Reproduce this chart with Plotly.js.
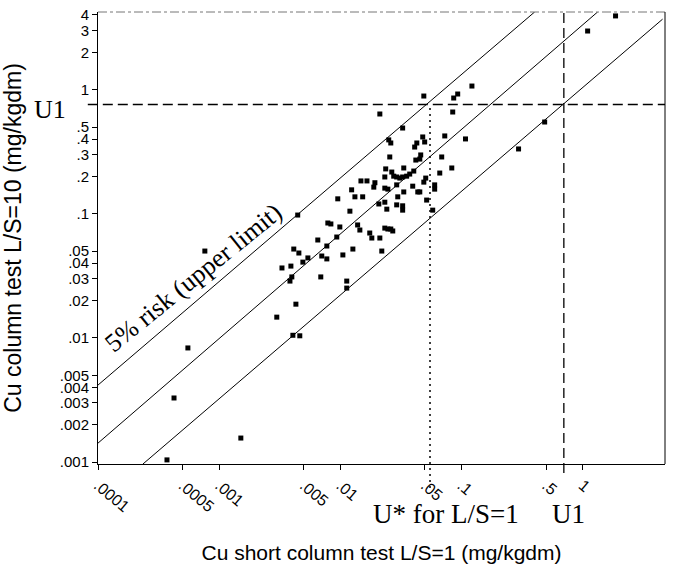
<!DOCTYPE html>
<html>
<head>
<meta charset="utf-8">
<script src="https://cdn.plot.ly/plotly-3.0.1.min.js"></script>
<style>html,body{margin:0;padding:0;background:#fff;}#chart{width:681px;height:577px;}</style>
</head>
<body>
<div id="chart"></div>
<script>
// ---- data ----
const cuShortLS1 = [1.87,1.10,0.122,0.0931,0.0863,0.0489,0.0212,0.0847,0.486,0.296,
  0.108,0.0728,0.0327,0.0251,0.0261,0.0479,0.0497,0.0411,0.0428,0.0461,
  0.0420,0.0453,0.0687,0.0832,0.0662,0.0256,0.0237,0.0334,0.0266,0.0276,
  0.0292,0.0310,0.0327,0.0353,0.0374,0.0404,0.0233,0.0507,0.0489,0.0148,
  0.0166,0.0193,0.0189,0.0233,0.0247,0.0292,0.0396,0.0601,0.0601,0.0334,
  0.0436,0.0453,0.0124,0.0132,0.0153,0.0298,0.00953,0.0516,0.0233,0.0208,
  0.0242,0.0292,0.0327,0.0327,0.0579,0.0120,0.00445,0.00789,0.00836,0.00991,
  0.0139,0.0145,0.0233,0.0247,0.0261,0.0271,0.00935,0.0175,0.0182,0.0212,
  0.00652,0.00774,0.0127,0.0105,0.0220,0.00413,0.00455,0.00540,0.00491,0.00703,
  0.00774,0.00330,0.00391,0.00398,0.00384,0.00690,0.0113,0.0113,0.00430,0.00299,
  0.00406,0.00463,0.000762,0.000552,0.000424,0.00151,0.000371];
const cuColumnLS10 = [3.93,2.97,1.07,0.923,0.857,0.889,0.637,0.661,0.549,0.333,
  0.401,0.424,0.491,0.394,0.372,0.416,0.379,0.345,0.372,0.298,
  0.271,0.276,0.287,0.234,0.213,0.287,0.230,0.234,0.217,0.201,
  0.198,0.194,0.198,0.201,0.209,0.221,0.198,0.194,0.180,0.184,
  0.184,0.178,0.164,0.161,0.158,0.171,0.167,0.171,0.158,0.150,
  0.150,0.150,0.156,0.137,0.137,0.137,0.132,0.129,0.124,0.120,
  0.109,0.118,0.116,0.107,0.107,0.105,0.0977,0.0843,0.0828,0.0783,
  0.0813,0.0740,0.0767,0.0754,0.0754,0.0727,0.0650,0.0700,0.0638,0.0638,
  0.0615,0.0550,0.0520,0.0466,0.0501,0.0520,0.0483,0.0441,0.0408,0.0457,
  0.0433,0.0366,0.0379,0.0310,0.0287,0.0310,0.0287,0.0252,0.0187,0.0147,
  0.0105,0.0104,0.0501,0.00830,0.00328,0.00156,0.00104];

const upperLimitX = [0.0001, 0.402];
const upperLimitY = [0.00417, 4.23];
const middleLineX = [0.0001, 1.33];
const middleLineY = [0.00142, 4.23];
const lowerLineX = [0.000235, 4.57];
const lowerLineY = [0.000964, 3.7];

const u1X = 0.70;
const u1Y = 0.76;
const uStarX = 0.055;

const xTickVals = [0.0001,0.0005,0.001,0.005,0.01,0.05,0.1,0.5,1,5];
const xTickText = ['.0001','.0005','.001','.005','.01','.05','.1','.5','1','5'];
const yTickVals = [4,3,2,1,0.5,0.4,0.3,0.2,0.1,0.05,0.04,0.03,0.02,0.01,0.005,0.004,0.003,0.002,0.001];
const yTickText = ['4','3','2','1','.5','.4','.3','.2','.1','.05','.04','.03','.02','.01','.005','.004','.003','.002','.001'];

const xRange = [-4, 0.68];
const yRange = [-3.016, 0.626];

// ---- helpers ----
function px(v){ return (Math.log10(v) - xRange[0]) / (xRange[1] - xRange[0]); }
function py(v){ return (Math.log10(v) - yRange[0]) / (yRange[1] - yRange[0]); }

const lineStyle = {color:'#000', width:1};
const traces = [
  {x: upperLimitX, y: upperLimitY, mode:'lines', line: lineStyle, hoverinfo:'skip', showlegend:false},
  {x: middleLineX, y: middleLineY, mode:'lines', line: lineStyle, hoverinfo:'skip', showlegend:false},
  {x: lowerLineX, y: lowerLineY, mode:'lines', line: lineStyle, hoverinfo:'skip', showlegend:false},
  {x: cuShortLS1, y: cuColumnLS10, mode:'markers', type:'scatter',
   marker:{symbol:'square', size:5, color:'#000'}, showlegend:false}
];

const serif = 'Liberation Serif, Times New Roman, serif';
const sans = 'Liberation Sans, Arial, sans-serif';

const layout = {
  width: 681, height: 577,
  margin: {l: 98, r: 16, t: 12, b: 113},
  paper_bgcolor: '#fff', plot_bgcolor: '#fff',
  showlegend: false,
  font: {family: sans, color: '#000'},
  xaxis: {
    type: 'log', range: xRange,
    tickmode: 'array', tickvals: xTickVals, ticktext: xTickText,
    tickangle: 40, ticks: 'outside', ticklen: 5, tickcolor: '#000',
    tickfont: {family: sans, size: 16, color: '#000'},
    showline: true, linecolor: '#000', linewidth: 1,
    showgrid: false, zeroline: false,
    title: {text: 'Cu short column test L/S=1 (mg/kgdm)', font: {family: sans, size: 21, color:'#000'}, standoff: 30}
  },
  yaxis: {
    type: 'log', range: yRange,
    tickmode: 'array', tickvals: yTickVals, ticktext: yTickText,
    ticks: 'outside', ticklen: 5, tickcolor: '#000',
    tickfont: {family: sans, size: 15, color: '#000'},
    showline: true, linecolor: '#000', linewidth: 1,
    showgrid: false, zeroline: false,
    title: {text: 'Cu column test L/S=10 (mg/kgdm)', font: {family: sans, size: 23, color:'#000'}, standoff: 31}
  },
  shapes: [
    {type:'line', xref:'paper', yref:'paper', x0:0, x1:1, y0:1, y1:1, line:{color:'#777', width:1, dash:'dashdot'}},
    {type:'line', xref:'paper', yref:'paper', x0:1, x1:1, y0:0, y1:1, line:{color:'#000', width:1}},
    {type:'line', xref:'paper', yref:'paper', x0:-0.018, x1:1, y0:py(u1Y), y1:py(u1Y), line:{color:'#000', width:1.3, dash:'10px,5px'}},
    {type:'line', xref:'paper', yref:'paper', x0:px(u1X), x1:px(u1X), y0:-0.02, y1:1, line:{color:'#000', width:1.3, dash:'10px,5px'}},
    {type:'line', xref:'paper', yref:'paper', x0:px(uStarX), x1:px(uStarX), y0:-0.053, y1:py(u1Y), line:{color:'#000', width:1.5, dash:'2px,4px'}}
  ],
  annotations: [
    {text:'U1', xref:'paper', yref:'paper', x:-0.085, y:py(u1Y) - 0.01, xanchor:'center', yanchor:'middle', showarrow:false, font:{family:serif, size:26, color:'#000'}},
    {text:'U* for L/S=1', xref:'paper', yref:'paper', x:0.614, y:-0.111, xanchor:'center', yanchor:'middle', showarrow:false, font:{family:serif, size:27, color:'#000'}},
    {text:'U1', xref:'paper', yref:'paper', x:0.829, y:-0.111, xanchor:'center', yanchor:'middle', showarrow:false, font:{family:serif, size:27, color:'#000'}},
    {text:'5% risk (upper limit)', xref:'paper', yref:'paper', x:0.169, y:0.412, xanchor:'center', yanchor:'middle', textangle:-39, showarrow:false, font:{family:serif, size:26, color:'#000'}}
  ]
};

Plotly.newPlot('chart', traces, layout, {staticPlot: true, displayModeBar: false});
</script>
</body>
</html>
